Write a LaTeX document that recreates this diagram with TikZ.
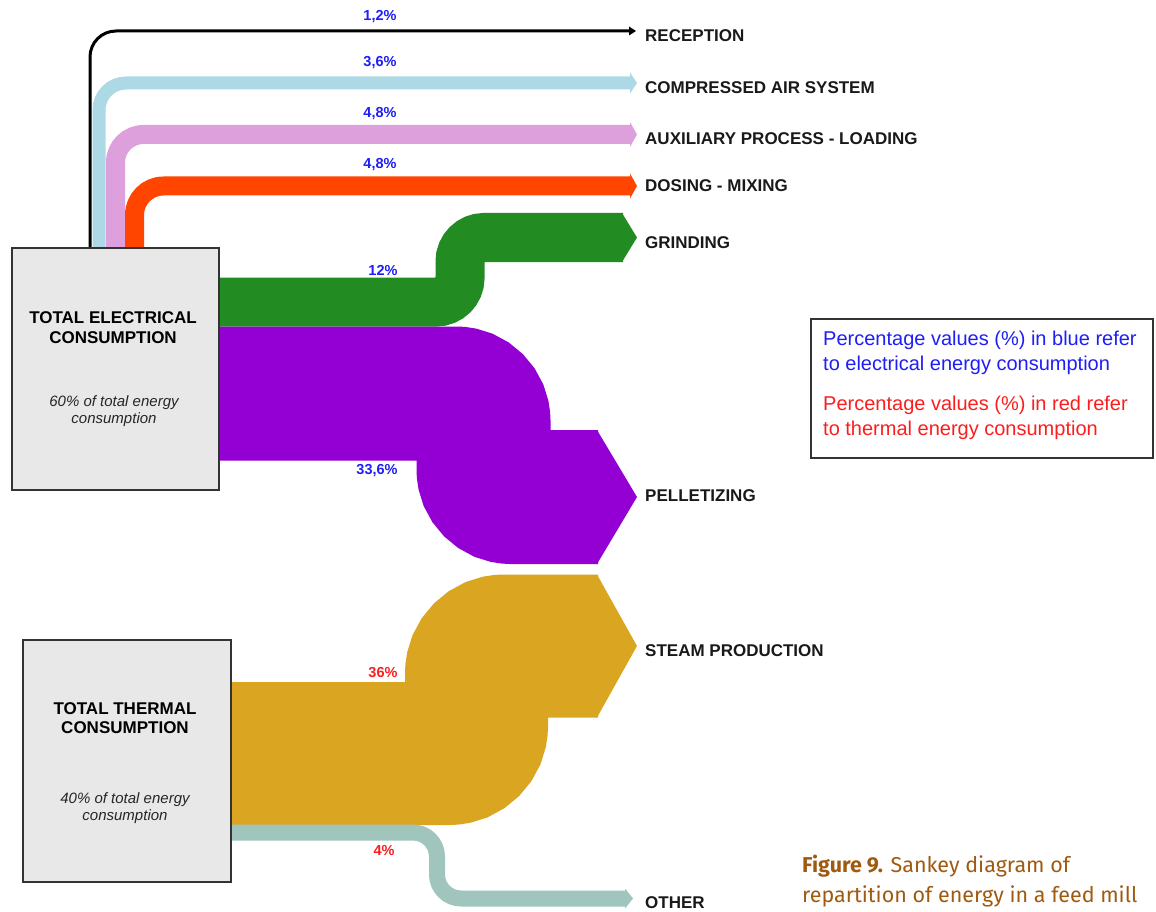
\documentclass[tikz,border=0pt]{standalone}
\usepackage{fontspec}
\setmainfont{Liberation Sans}
\newfontfamily\capfont{Fira Sans}
\definecolor{airblue}{RGB}{173,216,230}
\definecolor{loadpink}{RGB}{221,160,221}
\definecolor{mixred}{RGB}{255,69,0}
\definecolor{grindgreen}{RGB}{34,139,34}
\definecolor{pelletviolet}{RGB}{148,0,211}
\definecolor{steamgold}{RGB}{218,165,32}
\definecolor{othergrey}{RGB}{160,197,189}
\definecolor{boxgrey}{RGB}{232,232,232}
\definecolor{elecblue}{RGB}{30,30,245}
\definecolor{thermred}{RGB}{250,30,30}
\definecolor{capbrown}{RGB}{160,90,16}
\tikzset{
  consbox/.style={draw=black!80, fill=boxgrey, line width=2pt, inner sep=0pt},
  boxtitle/.style={align=center, inner sep=0pt, font=\fontsize{17}{19.5}\selectfont\bfseries},
  boxnote/.style={align=center, inner sep=0pt, font=\fontsize{15}{17}\selectfont\itshape, text=black!85},
  outlabel/.style={anchor=west, inner sep=0pt, font=\fontsize{17}{20}\selectfont\bfseries, text=black!90},
  pct/.style={inner sep=0pt, font=\fontsize{14.5}{16}\selectfont\bfseries},
  legendline/.style={anchor=base west, inner sep=0pt, font=\fontsize{20}{24}\selectfont},
  capline/.style={anchor=base west, inner sep=0pt, text=capbrown, font=\capfont\fontsize{21.5}{30}\selectfont}
}
\begin{document}
\begin{tikzpicture}[x=1pt,y=-1pt]
\useasboundingbox (0,0) rectangle (1156,912);
% electrical flows
\draw[black, line width=3pt, rounded corners=26pt] (90,248) -- (90,31) -- (631,31);
\fill[black] (629,26.5) -- (636,31) -- (629,35.5) -- cycle;
\draw[airblue, line width=13pt, rounded corners=27pt] (99,248) -- (99,83) -- (631,83);
\fill[airblue] (630,72.5) -- (637,83) -- (630,93.5) -- cycle;
\draw[loadpink, line width=19pt, rounded corners=28pt] (115.5,248) -- (115.5,134.5) -- (631,134.5);
\fill[loadpink] (630,122) -- (637,134.5) -- (630,147) -- cycle;
\draw[mixred, line width=19pt, rounded corners=29pt] (134.5,248) -- (134.5,186) -- (631,186);
\fill[mixred] (630,173.5) -- (637,186) -- (630,198.5) -- cycle;
\draw[grindgreen, line width=49pt, rounded corners=24pt] (218,302) -- (460,302) -- (460,237.5) -- (623,237.5);
\fill[grindgreen] (622,213) -- (637,237.5) -- (622,262) -- cycle;
\draw[pelletviolet, line width=134pt, rounded corners=28pt] (218,393.5) -- (483.5,393.5) -- (483.5,497) -- (598,497);
\fill[pelletviolet] (597,430) -- (637,497) -- (597,564) -- cycle;
% thermal flows
\draw[steamgold, line width=143pt, rounded corners=28pt] (231,753.5) -- (476.5,753.5) -- (476.5,646) -- (598,646);
\fill[steamgold] (597,574.5) -- (637,646) -- (597,717.5) -- cycle;
\draw[othergrey, line width=16pt, rounded corners=24pt] (231,832.5) -- (437,832.5) -- (437,898.5) -- (626,898.5);
\fill[othergrey] (625,888.5) -- (633,898.5) -- (625,908.5) -- cycle;
% source boxes
\node[consbox, minimum width=207pt, minimum height=242pt] (elec) at (115.5,369) {};
\node[boxtitle] (electitle) at (113,327.5) {TOTAL ELECTRICAL\\CONSUMPTION};
\node[boxnote] (elecnote) at (114,411) {60\% of total energy\\consumption};
\node[consbox, minimum width=208pt, minimum height=242pt] (therm) at (127,761) {};
\node[boxtitle] (thermtitle) at (125,718) {TOTAL THERMAL\\CONSUMPTION};
\node[boxnote] (thermnote) at (125,808) {40\% of total energy\\consumption};
% percentages
\node[pct, text=elecblue] (pctrec) at (380,17) {1,2\%};
\node[pct, text=elecblue] (pctair) at (380,63) {3,6\%};
\node[pct, text=elecblue] (pctload) at (380,114) {4,8\%};
\node[pct, text=elecblue] (pctmix) at (380,165) {4,8\%};
\node[pct, text=elecblue] (pctgrind) at (383,270) {12\%};
\node[pct, text=elecblue] (pctpellet) at (377,471) {33,6\%};
\node[pct, text=thermred] (pctsteam) at (383,673) {36\%};
\node[pct, text=thermred] (pctother) at (384,851) {4\%};
% destinations
\node[outlabel] (reception) at (645,35.5) {RECEPTION};
\node[outlabel] (airsys) at (645,88) {COMPRESSED AIR SYSTEM};
\node[outlabel] (loading) at (645,139) {AUXILIARY PROCESS - LOADING};
\node[outlabel] (mixing) at (645,186) {DOSING - MIXING};
\node[outlabel] (grinding) at (645,242.5) {GRINDING};
\node[outlabel] (pelletizing) at (645,496) {PELLETIZING};
\node[outlabel] (steam) at (645,651) {STEAM PRODUCTION};
\node[outlabel] (other) at (645,903) {OTHER};
% legend
\draw[black!80, line width=2pt] (811,319) rectangle (1153,458);
\node[legendline, text=elecblue] (legend1) at (823,345) {Percentage values (\%) in blue refer};
\node[legendline, text=elecblue] (legend2) at (823,370) {to electrical energy consumption};
\node[legendline, text=thermred] (legend3) at (823,410) {Percentage values (\%) in red refer};
\node[legendline, text=thermred] (legend4) at (823,435) {to thermal energy consumption};
% caption
\node[capline] (cap1) at (802,872) {\textbf{Figure 9.} Sankey diagram of};
\node[capline] (cap2) at (802,902) {repartition of energy in a feed mill};
\end{tikzpicture}
\end{document}
